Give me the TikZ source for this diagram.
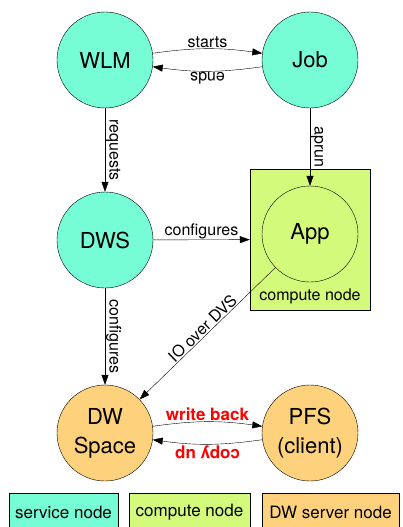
\documentclass[tikz,border=0pt]{standalone}
\usepackage{fontspec}
\setmainfont{TeX Gyre Heros}
\usepackage{tikz}
\usetikzlibrary{positioning, arrows.meta}
\definecolor{svcgreen}{HTML}{76FDD6}
\definecolor{cmplime}{HTML}{D4FA7C}
\definecolor{dworange}{HTML}{FED27D}
\tikzset{line width=1.4pt, >={Triangle[length=10pt, width=7pt]}, node distance=205pt,
	proc/.style={circle, draw, minimum size=96pt, inner sep=0pt, align=center, font=\fontsize{22}{29}\selectfont},
	svc/.style={proc, fill=svcgreen}, cmp/.style={proc, fill=cmplime}, dw/.style={proc, fill=dworange},
	lbl/.style={inner sep=1pt, font=\fontsize{16}{18}\selectfont},
	wlbl/.style={inner sep=1pt, text=red, font=\fontsize{17}{19}\selectfont\bfseries},
	key/.style={draw, rectangle, minimum height=38pt, inner sep=0pt, font=\fontsize{17}{20}\selectfont}}

\begin{document}
\begin{tikzpicture}[x=1pt, y=-1pt]
	\clip (0,0) rectangle (402,527);
	% compute node box
	\node[draw, fill=cmplime, minimum width=120pt, minimum height=141pt] (cnode) at (310,239.5) {};
	\node[lbl] (cnlabel) at (310,296) {compute node};

	\node[svc] (WLM) at (105,60) {WLM};
	\node[svc, right of=WLM] (Job) {Job};
	\node[svc, below of=WLM, node distance=180pt] (DWS) {DWS};
	\node[cmp, below of=Job, node distance=174pt] (App) {App};
	\node[dw, below of=DWS, node distance=193pt] (DWSpace) {DW\\Space};
	\node[dw, right of=DWSpace] (PFS) {PFS\\(client)};

	\draw[->]
		(WLM) edge[bend left=8] node[lbl, above]{starts} (Job)
		(Job) edge[bend left=8] node[lbl, sloped, allow upside down, above]{ends} (WLM)
		(WLM) edge node[lbl, sloped, above]{requests} (DWS)
		(Job) edge node[lbl, sloped, above]{aprun} (App)
		(DWS) edge node[lbl, above]{configures} (cnode)
		(DWS) edge node[lbl, sloped, above]{configures} (DWSpace)
		(App) edge node[lbl, sloped, above]{IO over DVS} (DWSpace)
		(DWSpace) edge[bend left=8] node[wlbl, above]{write back} (PFS)
		(PFS) edge[bend left=8] node[wlbl, sloped, allow upside down, above]{copy up} (DWSpace);

	% legend
	\node[key, fill=svcgreen, minimum width=109pt] (keysvc) at (63.5,512) {service node};
	\node[key, fill=cmplime, minimum width=121pt] (keycmp) at (189.5,512) {compute node};
	\node[key, fill=dworange, minimum width=137pt] (keydw) at (330.5,512) {DW server node};
\end{tikzpicture}
\end{document}
